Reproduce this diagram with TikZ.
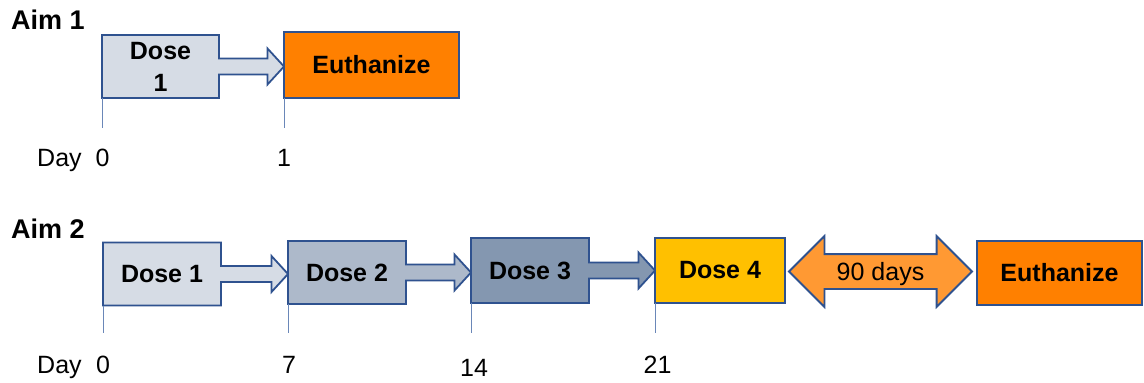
\documentclass[tikz,border=0pt]{standalone}
\usepackage{fontspec}
\setmainfont{Liberation Sans}
\usetikzlibrary{shapes.arrows,calc,backgrounds}

\definecolor{edgeblue}{HTML}{2F528F}
\definecolor{tickblue}{HTML}{6A87B8}
\definecolor{doseA}{HTML}{D6DCE5}
\definecolor{doseB}{HTML}{ADB9CA}
\definecolor{doseC}{HTML}{8497B0}
\definecolor{doseD}{HTML}{FFC000}
\definecolor{waitorange}{HTML}{FF9933}
\definecolor{euthorange}{HTML}{FF8000}

\tikzset{
  dosebox/.style={rectangle, minimum width=118pt, minimum height=63pt,
    inner sep=0pt, outer sep=0pt, font=\fontsize{25}{32}\selectfont\bfseries},
  framed/.style={draw=edgeblue, line width=1.8pt, line join=miter},
  aimlabel/.style={anchor=base west, inner sep=0pt, font=\fontsize{27}{28}\selectfont\bfseries},
  daylabel/.style={anchor=base, inner sep=0pt, font=\fontsize{25}{26}\selectfont},
  dayline/.style={draw=tickblue, line width=0.8pt},
}

\begin{document}
\begin{tikzpicture}[x=1pt, y=-1pt]
    \useasboundingbox (0,0) rectangle (1144,383);

    % Aim 1
    \node[aimlabel] (aim1) at (11,29) {Aim 1};
    \node[dosebox, minimum width=117pt, align=center] (a1dose) at (160.5,66.5) {Dose\\1};
    \node[dosebox, framed, fill=euthorange, minimum width=175pt, minimum height=66pt]
      (a1euth) at (371.5,65) {Euthanize};

    \node[daylabel, anchor=base west] (a1day) at (37,166) {Day};
    \node[daylabel] (a1t0) at (102.5,166) {0};
    \node[daylabel] (a1t1) at (284,166) {1};

    % Aim 2
    \node[aimlabel] (aim2) at (11,238) {Aim 2};
    \node[dosebox] (a2d1) at (162,274) {Dose 1};
    \node[dosebox] (a2d2) at (347,272.5) {Dose 2};
    \node[dosebox, minimum height=65pt] (a2d3) at (530,270.5) {Dose 3};
    \node[dosebox, framed, fill=doseD, minimum width=130pt, minimum height=65pt]
      (a2d4) at (720,270.5) {Dose 4};
    \node[double arrow, framed, fill=waitorange, minimum height=183pt,
      double arrow head extend=18pt, text height=18pt, text depth=0pt,
      inner ysep=7.5pt, inner xsep=0pt, font=\fontsize{25}{26}\selectfont]
      (wait) at (880.5,271.5) {90 days};
    \node[dosebox, framed, fill=euthorange, minimum width=165pt, minimum height=64pt]
      (a2euth) at (1059.5,273) {Euthanize};

    \node[daylabel, anchor=base west] (a2day) at (37,373) {Day};
    \node[daylabel] (a2t0) at (103,373) {0};
    \node[daylabel] (a2t7) at (289,373) {7};
    \node[daylabel] (a2t14) at (474,376) {14};
    \node[daylabel] (a2t21) at (657.5,373) {21};

    % dose boxes with their arrows
    \begin{scope}[on background layer]
      \foreach \s/\t/\c in {a1dose/a1euth/doseA, a2d1/a2d2/doseA,
                            a2d2/a2d3/doseB, a2d3/a2d4/doseC} {
        \coordinate (tip) at (\t.west |- \s.east);
        \draw[framed, fill=\c] (\s.north west) -- (\s.north east)
          -- ($(\s.east)+(0,-8)$) -- ($(tip)+(-16.5,-8)$)
          -- ($(tip)+(-16.5,-18)$) -- (tip) -- ($(tip)+(-16.5,18)$)
          -- ($(tip)+(-16.5,8)$) -- ($(\s.east)+(0,8)$)
          -- (\s.south east) -- (\s.south west) -- cycle;
      }
    \end{scope}

    % day marks
    \foreach \n in {a1dose, a1euth} {
      \draw[dayline] (\n.south west) -- (\n.south west |- 0,128);
    }
    \foreach \n in {a2d1, a2d2, a2d3, a2d4} {
      \draw[dayline] (\n.south west) -- (\n.south west |- 0,333);
    }
\end{tikzpicture}
\end{document}
